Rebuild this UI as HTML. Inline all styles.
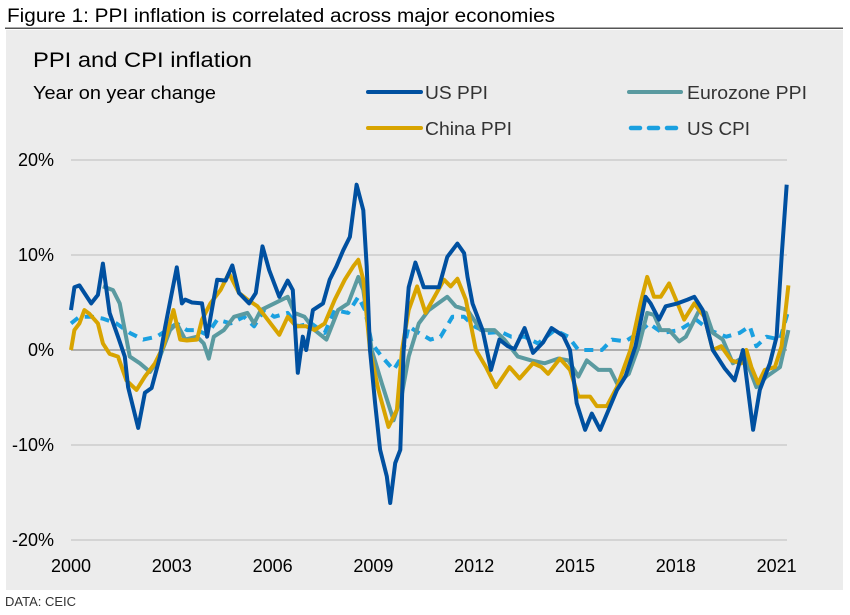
<!DOCTYPE html>
<html><head><meta charset="utf-8"><style>
body{margin:0;background:#fff;font-family:"Liberation Sans",sans-serif;}
#wrap{position:relative;width:850px;height:615px;overflow:hidden;}
</style></head><body>
<div id="wrap">
<svg width="850" height="615" id="svg">
<text x="7" y="22" font-size="19" textLength="548" lengthAdjust="spacingAndGlyphs" fill="#000">Figure 1: PPI inflation is correlated across major economies</text>
<rect x="5" y="27.5" width="838" height="1.5" fill="#555"/>
<rect x="6" y="30" width="837" height="560" fill="#ececec"/>
<text x="33" y="67" font-size="21" textLength="219" lengthAdjust="spacingAndGlyphs" fill="#000">PPI and CPI inflation</text>
<text x="33" y="99" font-size="18" textLength="183" lengthAdjust="spacingAndGlyphs" fill="#000">Year on year change</text>
<g>
<line x1="368" y1="92" x2="421" y2="92" stroke="#0050a0" stroke-width="4" stroke-linecap="round"/>
<text x="425" y="99" font-size="18" textLength="63" lengthAdjust="spacingAndGlyphs" fill="#333">US PPI</text>
<line x1="629" y1="92" x2="681" y2="92" stroke="#5a9aa0" stroke-width="4" stroke-linecap="round"/>
<text x="687" y="99" font-size="18" textLength="120" lengthAdjust="spacingAndGlyphs" fill="#333">Eurozone PPI</text>
<line x1="368" y1="128" x2="421" y2="128" stroke="#d8a400" stroke-width="4" stroke-linecap="round"/>
<text x="425" y="135" font-size="18" textLength="87" lengthAdjust="spacingAndGlyphs" fill="#333">China PPI</text>
<line x1="631" y1="128" x2="676" y2="128" stroke="#1aa0e0" stroke-width="4.5" stroke-dasharray="9,9" stroke-linecap="round"/>
<text x="687" y="135" font-size="18" textLength="63" lengthAdjust="spacingAndGlyphs" fill="#333">US CPI</text>
</g>
<g id="grid"></g><g id="axes"></g><g id="series"></g>
<text x="5" y="606" font-size="13" fill="#333">DATA: CEIC</text>
</svg>
</div>
<script>
const yTicks=[20,10,0,-10,-20];
const xTicks=[2000,2003,2006,2009,2012,2015,2018,2021];
const usPpiT=[0,0.1,0.25,0.6,0.8,0.95,1.15,1.4,1.6,1.7,2.0,2.2,2.4,2.65,2.8,3.15,3.3,3.4,3.6,3.9,4.05,4.35,4.6,4.8,5.0,5.3,5.5,5.7,5.9,6.2,6.45,6.6,6.75,6.9,7.0,7.2,7.5,7.7,7.9,8.1,8.3,8.5,8.7,8.8,8.9,9.05,9.2,9.4,9.5,9.65,9.8,9.9,10.05,10.25,10.5,10.75,10.95,11.2,11.5,11.7,11.8,11.95,12.25,12.5,12.75,13,13.2,13.5,13.75,14.05,14.3,14.65,14.85,15.05,15.3,15.5,15.75,16,16.25,16.5,16.8,17.1,17.25,17.5,17.7,18.05,18.35,18.55,18.8,19.1,19.45,19.75,20,20.3,20.5,20.8,21.0,21.15,21.3];
const usPpiV=[4.2,6.6,6.8,4.9,5.8,9.1,3.9,1.4,-0.7,-3.9,-8.2,-4.5,-4,-0.7,2.4,8.7,4.9,5.3,5.0,4.9,1.4,7.4,7.3,8.9,6.0,4.9,6.0,10.9,8.4,5.6,7.3,6.3,-2.4,1.4,0,4.2,4.9,7.4,8.8,10.5,11.9,17.4,14.7,8.8,0,-5.6,-10.5,-13.3,-16.1,-11.9,-10.5,0,6.6,9.2,6.6,6.6,6.6,9.8,11.2,10.2,7.7,4.9,2.1,-2.1,1.1,0.4,0.1,2.3,-0.3,0.8,2.3,1.5,0,-5.6,-8.4,-6.7,-8.4,-6.3,-4.2,-2.8,0.4,5.6,4.9,3.2,4.6,4.9,5.3,5.6,4.2,0,-1.9,-3.2,0,-8.4,-4.2,-1.4,1.4,9.8,17.4];
const euPpiT=[0.95,1.25,1.45,1.75,2.05,2.35,2.65,2.95,3.15,3.4,3.75,3.95,4.1,4.25,4.55,4.85,5.25,5.45,5.65,6.05,6.45,6.65,6.95,7.25,7.6,7.95,8.25,8.55,8.7,8.95,9.25,9.6,9.85,10.05,10.35,10.65,11.2,11.45,11.8,12.2,12.6,12.9,13.3,13.7,14.1,14.5,14.8,15.1,15.35,15.7,16.05,16.25,16.6,16.9,17.15,17.35,17.55,17.8,18.1,18.3,18.7,18.9,19.1,19.4,19.7,20.05,20.4,20.7,21.1,21.35];
const euPpiV=[6.7,6.3,4.9,-0.7,-1.4,-2.3,-0.7,2.1,2.8,1.1,1.4,0.7,-0.9,1.4,2.1,3.5,3.9,2.8,4.2,4.9,5.6,3.9,3.5,2.1,1.1,4.2,4.9,7.7,6.3,0,-3.5,-7.4,-4.6,-0.7,2.8,4.2,5.6,4.6,4.2,2.1,2.1,1.1,-0.7,-1.1,-1.4,-0.9,-1.1,-2.8,-1.1,-2.1,-2.1,-3.5,-2.5,0.4,3.9,3.7,2.1,2.1,0.9,1.4,4.2,3.9,1.8,1.1,-1.4,-0.7,-3.9,-2.8,-1.8,2.1];
const cnPpiT=[0,0.1,0.25,0.4,0.55,0.8,0.95,1.15,1.4,1.65,1.95,2.2,2.5,2.75,3.05,3.25,3.45,3.75,3.9,4.15,4.45,4.7,5.0,5.25,5.55,5.85,6.2,6.45,6.7,7.0,7.25,7.55,7.85,8.15,8.4,8.55,8.7,8.9,9.15,9.45,9.7,9.85,10.05,10.3,10.55,11.1,11.3,11.5,11.75,12.05,12.35,12.65,13.05,13.35,13.75,14.0,14.2,14.55,14.85,15.1,15.45,15.65,15.95,16.25,16.65,16.95,17.15,17.35,17.55,17.8,18.05,18.25,18.55,18.85,19.1,19.35,19.65,19.95,20.1,20.25,20.45,20.65,20.95,21.15,21.35];
const cnPpiV=[0,2.1,2.8,4.2,3.8,2.8,0.7,-0.4,-0.7,-3.2,-4.2,-2.8,-1.4,0.4,4.2,1.1,1.0,1.1,3.2,4.9,6.3,8.1,6.0,5.3,4.6,3.2,1.6,3.5,2.5,2.5,2.1,2.8,5.3,7.4,8.8,9.5,7.4,0,-4.2,-8.1,-6.3,0,4.2,6.7,3.9,7.4,6.7,7.5,5.3,0,-1.8,-3.9,-1.8,-3.0,-1.4,-1.8,-2.5,-0.9,-2.1,-4.9,-4.9,-5.9,-5.9,-3.9,0,4.9,7.7,5.6,5.6,7.0,4.9,3.2,4.9,3.5,0,0.4,-1.1,-1.4,0,-1.8,-3.5,-2.1,-1.8,0.4,6.8];
const usCpiT=[0,0.25,0.65,0.95,1.35,1.75,2.15,2.55,2.85,3.15,3.45,3.75,4.05,4.35,4.75,5.15,5.45,5.75,6.05,6.45,6.75,7.15,7.55,7.85,8.25,8.55,8.75,8.95,9.25,9.6,9.85,10.05,10.35,10.7,11.0,11.35,11.7,12.0,12.4,12.8,13.1,13.5,13.9,14.4,14.8,15.1,15.5,15.8,16.1,16.5,16.9,17.2,17.6,18.1,18.6,19.0,19.5,19.9,20.2,20.4,20.7,21.1,21.35];
const usCpiV=[2.8,3.5,3.5,3.3,2.8,1.8,1.1,1.4,2.1,2.8,2.1,2.1,1.6,3.2,2.8,3.5,2.5,4.2,3.5,3.9,2.5,2.8,1.8,4.2,3.9,5.6,4.2,0.7,-0.7,-2.1,-0.7,2.5,1.8,1.1,1.4,3.5,3.5,2.5,1.8,1.9,1.4,1.4,0.7,2.1,1.4,0,0,0,1.1,0.9,1.8,2.8,1.8,2.1,3.2,2.1,1.4,1.8,2.5,0.4,1.4,1.1,4.2];

const X0=71,PXY=33.6,Y0=350,PXV=9.5;
const xs=t=>X0+t*PXY, ys=v=>Y0-v*PXV;
const NS='http://www.w3.org/2000/svg';
const grid=document.getElementById('grid'),axes=document.getElementById('axes'),ser=document.getElementById('series');
yTicks.forEach(v=>{
  if(v!==0){const l=document.createElementNS(NS,'line');
  l.setAttribute('x1',X0);l.setAttribute('x2',787);l.setAttribute('y1',ys(v));l.setAttribute('y2',ys(v));
  l.setAttribute('stroke','#bdbdbd');l.setAttribute('stroke-width','1');
  
  
  grid.appendChild(l);}
  const t=document.createElementNS(NS,'text');
  t.setAttribute('x',54);t.setAttribute('y',ys(v)+6);t.setAttribute('text-anchor','end');t.setAttribute('font-size','18');
  t.textContent=v+'%';
  
  
  axes.appendChild(t);
});
const z=document.createElementNS(NS,'line');
z.setAttribute('x1',X0);z.setAttribute('x2',787);z.setAttribute('y1',ys(0));z.setAttribute('y2',ys(0));
z.setAttribute('stroke','#888');z.setAttribute('stroke-width','1.3');


grid.appendChild(z);
xTicks.forEach((yr,i)=>{
  const t=document.createElementNS(NS,'text');
  t.setAttribute('x',xs(yr-2000));t.setAttribute('y',572);t.setAttribute('text-anchor','middle');t.setAttribute('font-size','18');
  t.textContent=yr;
  
  
  axes.appendChild(t);
});
function draw(T,V,color,name,dash){
  const p=document.createElementNS(NS,'path');
  p.setAttribute('d',T.map((t,i)=>(i?'L':'M')+xs(t).toFixed(1)+','+ys(V[i]).toFixed(1)).join(''));
  p.setAttribute('fill','none');p.setAttribute('stroke',color);p.setAttribute('stroke-width','4');
  p.setAttribute('stroke-linejoin','round');
  if(dash){p.setAttribute('stroke-dasharray','9,7');}
  
  
  ser.appendChild(p);
}
draw(usCpiT,usCpiV,'#1aa0e0','series-us-cpi',true);
draw(euPpiT,euPpiV,'#5a9aa0','series-eurozone-ppi');
draw(cnPpiT,cnPpiV,'#d8a400','series-china-ppi');
draw(usPpiT,usPpiV,'#0050a0','series-us-ppi');
</script>
</body></html>
